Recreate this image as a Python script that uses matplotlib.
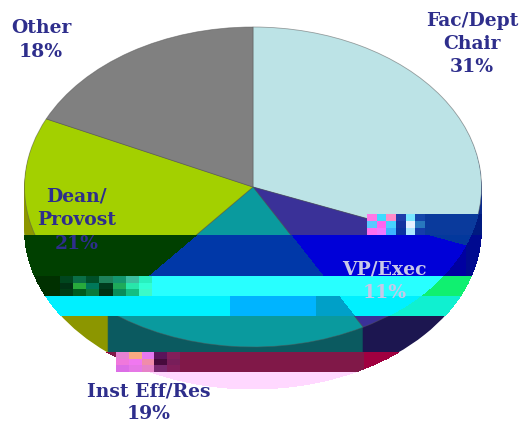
import matplotlib
matplotlib.use('Agg')
import matplotlib.pyplot as plt
from matplotlib.patches import Rectangle
import numpy as np

shares = [31, 11, 19, 21, 18]
# order of colours below: fac, vp, inst, dean, other
top_base = ['#bce3e6', '#3a3198', '#0a9a9e', '#a3d000', '#808080']
side_base = ['#0a2a8c', '#1c1650', '#0b5a60', '#8c9600', '#606060']

# the damaged strips of the picture: x0, x1, y0, y1, top colours, side colours
strips = [
    (367, 525, 214, 235, ['#0a3a9c', '#0a3a9c', '#0a9a9e', '#a3d000', '#808080'], ['#001a80'] * 5),
    (0, 525, 235, 276, ['#03389c', '#0000d8', '#0038a8', '#004000', '#808080'], ['#000a90', '#0000a0', '#0038a8', '#004000', '#004000']),
    (0, 525, 276, 296, ['#28ffff', '#28ffff', '#28ffff', '#004010', '#004010'], ['#10f070', '#10f070', '#28ffff', '#003000', '#003000']),
    (0, 525, 296, 316, ['#00f0ff'] * 5, ['#10f0d0', '#10f0d0', '#00f0ff', '#00f0ff', '#00f0ff']),
    (230, 316, 296, 316, ['#00f0ff', '#00f0ff', '#00b4ff', '#00f0ff', '#00f0ff'], ['#00f0ff'] * 5),
    (316, 355, 296, 316, ['#00f0ff', '#00f0ff', '#00a0c8', '#00f0ff', '#00f0ff'], ['#00f0ff'] * 5),
    (0, 525, 352, 372, ['#801848'] * 5, ['#a00040', '#a00040', '#801848', '#a00030', '#a00030']),
    (0, 525, 372, 423, ['#ffd8ff'] * 5, ['#ffd8ff'] * 5),
]

cx, cy, rx, ry = 253, 187, 228.5, 160
depth = 42
ink = '#2e2e8c'

fig = plt.figure(figsize=(5.25, 4.23), dpi=100)
ax = fig.add_axes([0, 0, 1, 1])


def X(px):
    return (px - cx) / rx


def Y(py):
    return (cy - py) / ry


def draw_pie(top, side, box=None, edge='none'):
    clip = None
    if box:
        clip = Rectangle((X(box[0]), Y(box[3])), X(box[1]) - X(box[0]), Y(box[2]) - Y(box[3]),
                         transform=ax.transData)
    for i in range(depth, -1, -1):
        cols = top if i == 0 else side
        wedges, _ = ax.pie(shares, colors=cols, startangle=90, counterclock=False,
                           center=(0, -i / ry), radius=1,
                           wedgeprops={'linewidth': 0.6 if (i == 0 and edge != 'none') else 0,
                                       'edgecolor': edge, 'antialiased': box is None})
        if clip is not None:
            for w in wedges:
                # pie switches clipping off on its wedges
                w.set_clip_on(True)
                w.set_clip_path(clip)


draw_pie(top_base, side_base, edge='#55555588')
for x0, x1, y0, y1, t, s in strips:
    draw_pie(t, s, (x0, x1, y0, y1))

# noise blocks in the damaged strips
noise_a = np.array([[[255, 120, 230], [60, 220, 255], [255, 140, 200], [30, 60, 170], [120, 230, 255], [20, 70, 170]],
                    [[90, 200, 255], [255, 100, 240], [70, 210, 255], [20, 50, 160], [230, 240, 255], [40, 120, 190]],
                    [[255, 110, 240], [240, 120, 255], [60, 180, 255], [10, 50, 160], [170, 230, 255], [20, 60, 170]]]) / 255
noise_b = np.array([[[0, 70, 30], [10, 110, 70], [0, 80, 40], [30, 130, 90], [20, 150, 110], [60, 190, 160], [40, 240, 190]],
                    [[0, 50, 20], [40, 170, 60], [0, 120, 90], [0, 60, 30], [30, 170, 90], [40, 230, 170], [50, 255, 210]],
                    [[0, 60, 20], [0, 90, 30], [10, 120, 60], [0, 50, 20], [10, 140, 90], [20, 190, 130], [60, 250, 200]]]) / 255
noise_c = np.array([[[230, 130, 210], [250, 170, 130], [230, 120, 240], [90, 20, 90], [130, 30, 90]],
                    [[240, 120, 220], [240, 120, 240], [240, 140, 170], [70, 10, 60], [120, 30, 90]],
                    [[220, 110, 230], [230, 120, 230], [230, 130, 200], [120, 40, 110], [130, 30, 90]]]) / 255
ax.imshow(noise_a, extent=(X(367), X(425), Y(235), Y(214)), aspect='auto', interpolation='nearest', zorder=3)
ax.imshow(noise_b, extent=(X(60), X(152), Y(296), Y(276)), aspect='auto', interpolation='nearest', zorder=3)
ax.imshow(noise_c, extent=(X(116), X(180), Y(372), Y(352)), aspect='auto', interpolation='nearest', zorder=3)

labels = [
    ('Other', 41, 28, ink), ('18%', 41, 52, ink),
    ('Fac/Dept', 472, 21, ink), ('Chair', 472, 44, ink), ('31%', 472, 67, ink),
    ('Dean/', 76, 197, ink), ('Provost', 77, 220, ink), ('21%', 77, 244, ink),
    ('VP/Exec', 384, 270, '#c8c8e8'), ('11%', 385, 293, '#c8c8e8'),
    ('Inst Eff/Res', 149, 391, ink), ('19%', 149, 414, ink),
]
for txt, px, py, col in labels:
    ax.text(X(px), Y(py), txt, color=col, ha='center', va='center', zorder=5,
            family='DejaVu Serif', fontweight='bold', fontsize=13.5)

ax.set_aspect('auto')
ax.set_xlim(X(0), X(525))
ax.set_ylim(Y(423), Y(0))
ax.axis('off')
fig.savefig('out.png', dpi=100)
